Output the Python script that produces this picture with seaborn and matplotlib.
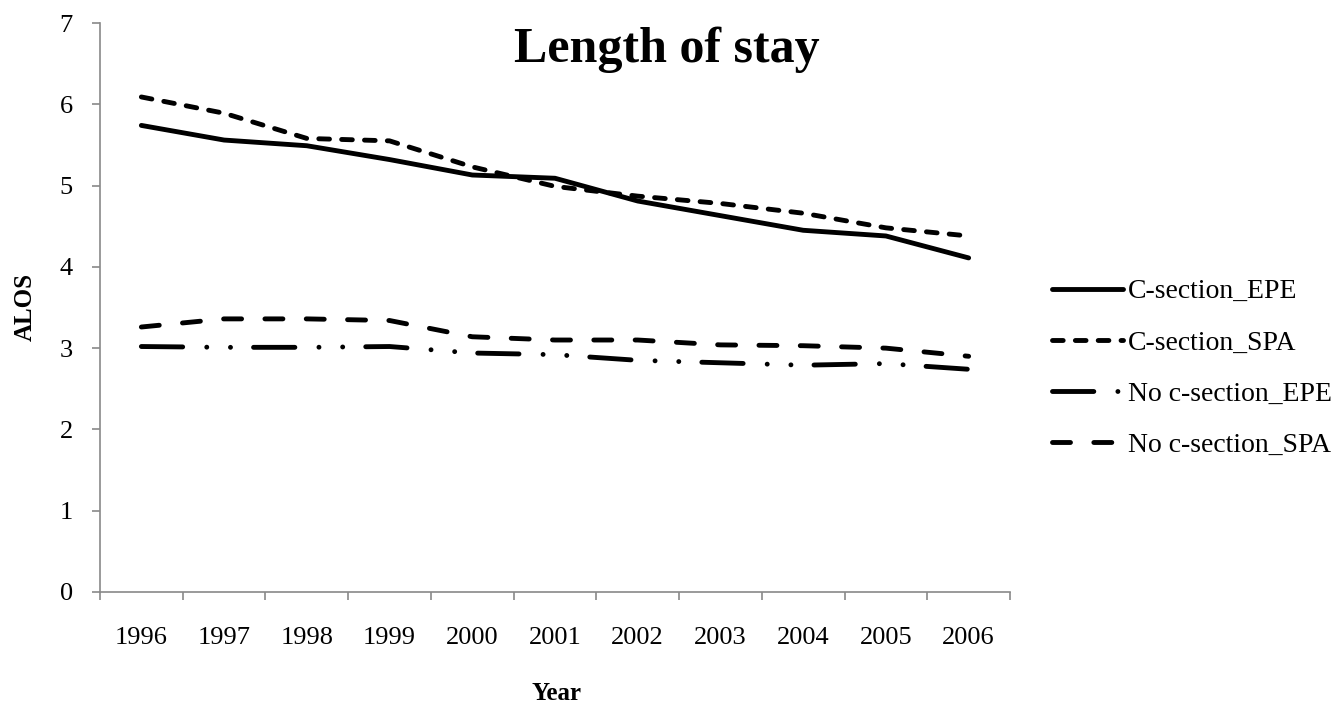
import matplotlib
matplotlib.use("Agg")
import matplotlib.pyplot as plt
import seaborn as sns
import pandas as pd
import numpy as np
from matplotlib.ticker import FixedLocator

years = [1996, 1997, 1998, 1999, 2000, 2001, 2002, 2003, 2004, 2005, 2006]
cs_epe = [5.74, 5.56, 5.49, 5.32, 5.13, 5.09, 4.81, 4.63, 4.45, 4.38, 4.11]
cs_spa = [6.09, 5.89, 5.58, 5.55, 5.23, 4.99, 4.87, 4.78, 4.66, 4.48, 4.38]
no_epe = [3.02, 3.01, 3.01, 3.02, 2.94, 2.92, 2.85, 2.82, 2.79, 2.81, 2.74]
no_spa = [3.26, 3.36, 3.36, 3.34, 3.14, 3.10, 3.10, 3.04, 3.03, 3.00, 2.90]
series_names = ["C-section_EPE", "C-section_SPA", "No c-section_EPE", "No c-section_SPA"]

df = pd.concat([
    pd.DataFrame({"Year": years, "ALOS": vals, "Series": name})
    for name, vals in zip(series_names, [cs_epe, cs_spa, no_epe, no_spa])
], ignore_index=True)

sns.set_theme(style="white")
plt.rcParams["font.family"] = ["Liberation Serif", "DejaVu Serif"]
plt.rcParams["text.color"] = "black"
plt.rcParams["axes.labelcolor"] = "black"
plt.rcParams["xtick.color"] = "black"
plt.rcParams["ytick.color"] = "black"

fig = plt.figure(figsize=(13.42, 7.04), dpi=100)
ax = fig.add_axes([100/1342, 1-592/704, 910/1342, 569/704])

dash_map = {
    "C-section_EPE": "",
    "C-section_SPA": (2.2, 2.5),
    "No c-section_EPE": (8.5, 4.95, 0.01, 4.87, 0.01, 4.74),
    "No c-section_SPA": (3.7, 4.8),
}
lw = 3.5
sns.lineplot(data=df, x="Year", y="ALOS", style="Series", style_order=series_names,
             dashes=dash_map, color="black", linewidth=lw, ax=ax,
             dash_capstyle="round", solid_capstyle="round", legend=True)

ax.set_ylim(0, 7)
ax.set_xlim(1995.5, 2006.5)
ax.set_yticks(range(0, 8))
ax.set_xticks(years)
ax.set_xticklabels([str(y) for y in years])
ax.xaxis.set_minor_locator(FixedLocator(np.arange(1995.5, 2007, 1.0)))

spine_c = "#898989"
for s in ["top", "right"]:
    ax.spines[s].set_visible(False)
for s in ["left", "bottom"]:
    ax.spines[s].set_color(spine_c)
    ax.spines[s].set_linewidth(1.2)

ax.tick_params(axis="y", which="major", direction="out", length=6, width=1.2,
               color=spine_c, left=True, labelsize=19, pad=13.5, labelcolor="black")
ax.tick_params(axis="x", which="major", length=0, labelsize=19, pad=25, labelcolor="black")
ax.tick_params(axis="x", which="minor", direction="out", length=6, width=1.2,
               color=spine_c, bottom=True)
ax.set_xlabel("")
ax.set_ylabel("")
ax.grid(False)

fig.text(667/1342, 1-62/704, "Length of stay", fontsize=36, fontweight="bold",
         ha="center", va="baseline", color="black")
fig.text(25/1342, 1-307/704, "ALOS", fontsize=18, fontweight="bold",
         rotation=90, ha="center", va="center", color="black")
fig.text(556/1342, 1-693/704, "Year", fontsize=18, fontweight="bold",
         ha="center", va="center", color="black")

sns.move_legend(ax, loc="center left", bbox_to_anchor=(1052/1342, 1-368.5/704),
                bbox_transform=fig.transFigure, frameon=False, fontsize=20,
                handlelength=2.55, handletextpad=0.18, labelspacing=0.93,
                borderaxespad=0, borderpad=0, title=None)
leg = ax.get_legend()
for h in leg.legend_handles:
    h.set_color("black")
    h.set_linewidth(lw)
    h.set_dash_capstyle("round")
    h.set_solid_capstyle("round")
for t in leg.get_texts():
    t.set_color("black")

fig.savefig("out.png", dpi=100)
